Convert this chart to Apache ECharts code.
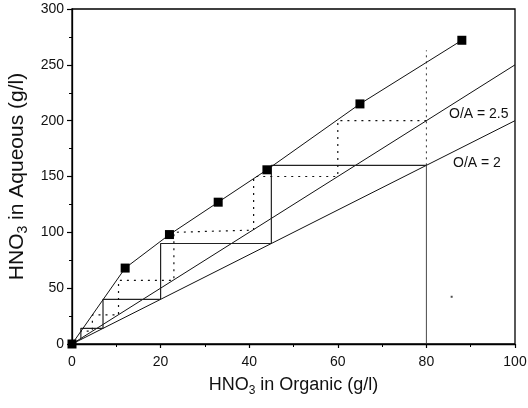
<!DOCTYPE html>
<html>
<head>
<meta charset="utf-8">
<script src="https://cdn.jsdelivr.net/npm/echarts@6/dist/echarts.min.js"></script>
<style>
  html, body { margin: 0; padding: 0; background: #fff; }
  #chart { width: 528px; height: 408px; }
</style>
</head>
<body>
<div id="chart"></div>
<script>
// equilibrium curve (measured points, squares)
const eqX = [0, 12, 22, 33, 44, 65, 88];
const eqY = [0, 68, 98, 127, 156, 215, 272];

// operating lines
const opLow = [[0, 0], [100, 200]];    // O/A = 2
const opHigh = [[0, 0], [100, 250]];   // O/A = 2.5

// McCabe-Thiele steps, O/A = 2 (solid)
const stepsSolid = [[80, 160], [45, 160], [45, 90], [20, 90], [20, 40], [7, 40], [7, 14], [2, 14], [2, 4]];
// steps, O/A = 2.5 (dotted)
const stepsDotted = [[80, 200], [60, 200], [60, 150], [41, 150], [41, 102], [23, 100], [23, 57], [10.5, 57],
  [10.5, 26], [4.6, 26], [4.6, 11.5], [2, 11.5]];

// vertical feed line at 80
const feedSolid = [[80, 0], [80, 160]];
const feedDotted = [[80, 160], [80, 263]];

const speck = [[85.7, 42.3]];

const xTicks = [0, 20, 40, 60, 80, 100];
const yTicks = [0, 50, 100, 150, 200, 250, 300];

const chart = echarts.init(document.getElementById('chart'));
const FONT = 'Liberation Sans';

function lineSeries(data, opts) {
  return Object.assign({
    type: 'line',
    data: data,
    symbol: 'none',
    silent: true,
    animation: false,
    lineStyle: { color: '#111', width: 1 },
    z: 2
  }, opts);
}

const option = {
  animation: false,
  grid: {
    left: 72, right: 13, top: 9, bottom: 64,
    containLabel: false, outerBoundsMode: 'none',
    show: true, borderColor: '#000', borderWidth: 1.3, backgroundColor: 'transparent'
  },
  xAxis: {
    type: 'value', min: 0, max: 100, interval: 20,
    name: '{a|HNO}{s|3}{a| in Organic (g/l)}',
    nameLocation: 'middle', nameGap: 30,
    nameTextStyle: {
      rich: {
        a: { fontFamily: FONT, fontSize: 18, color: '#111', lineHeight: 22 },
        s: { fontFamily: FONT, fontSize: 12, color: '#111', lineHeight: 22, padding: [11, 0, 0, 0] }
      }
    },
    axisLine: { lineStyle: { color: '#000', width: 1.3 } },
    axisTick: { inside: false, length: 4, lineStyle: { color: '#000', width: 1.2 } },
    minorTick: { show: true, splitNumber: 2, length: 3, lineStyle: { color: '#000', width: 1 } },
    splitLine: { show: false },
    axisLabel: {
      fontFamily: FONT, fontSize: 14, color: '#111', margin: 11,
      formatter: v => xTicks.includes(v) ? String(v) : ''
    }
  },
  yAxis: {
    type: 'value', min: 0, max: 300, interval: 50,
    name: '{a|HNO}{s|3}{a| in Aqueous (g/l)}',
    nameLocation: 'middle', nameGap: 32,
    nameTextStyle: {
      rich: {
        a: { fontFamily: FONT, fontSize: 21, color: '#111', lineHeight: 24 },
        s: { fontFamily: FONT, fontSize: 14, color: '#111', lineHeight: 24, padding: [12, 0, 0, 0] }
      }
    },
    axisLine: { show: true, lineStyle: { color: '#000', width: 1.3 } },
    axisTick: { show: true, inside: false, length: 5, lineStyle: { color: '#000', width: 1.2 } },
    minorTick: { show: true, splitNumber: 2, length: 3, lineStyle: { color: '#000', width: 1 } },
    splitLine: { show: false },
    axisLabel: {
      fontFamily: FONT, fontSize: 14, color: '#111', margin: 8,
      formatter: v => yTicks.includes(v) ? String(v) : ''
    }
  },
  series: [
    lineSeries(eqX.map((x, i) => [x, eqY[i]]), {
      symbol: 'rect', symbolSize: 9, showSymbol: true,
      itemStyle: { color: '#000' }, z: 5
    }),
    lineSeries(opLow),
    lineSeries(opHigh),
    lineSeries(stepsSolid, { lineStyle: { color: '#222', width: 1.2 } }),
    lineSeries(stepsDotted, { lineStyle: { color: '#111', width: 1.2, type: [2, 5] } }),
    lineSeries(feedSolid, { lineStyle: { color: '#333', width: 0.9 } }),
    lineSeries(feedDotted, { lineStyle: { color: '#333', width: 1, type: [2, 4] } }),
    {
      type: 'scatter', data: speck, symbol: 'rect', symbolSize: 2,
      itemStyle: { color: '#222' }, silent: true
    }
  ],
  graphic: [
    { type: 'text', left: 449, top: 107,
      style: { text: 'O/A = 2.5', font: '14px "Liberation Sans"', fill: '#111' } },
    { type: 'text', left: 453, top: 156,
      style: { text: 'O/A = 2', font: '14px "Liberation Sans"', fill: '#111' } }
  ]
};
chart.setOption(option);
</script>
</body>
</html>
